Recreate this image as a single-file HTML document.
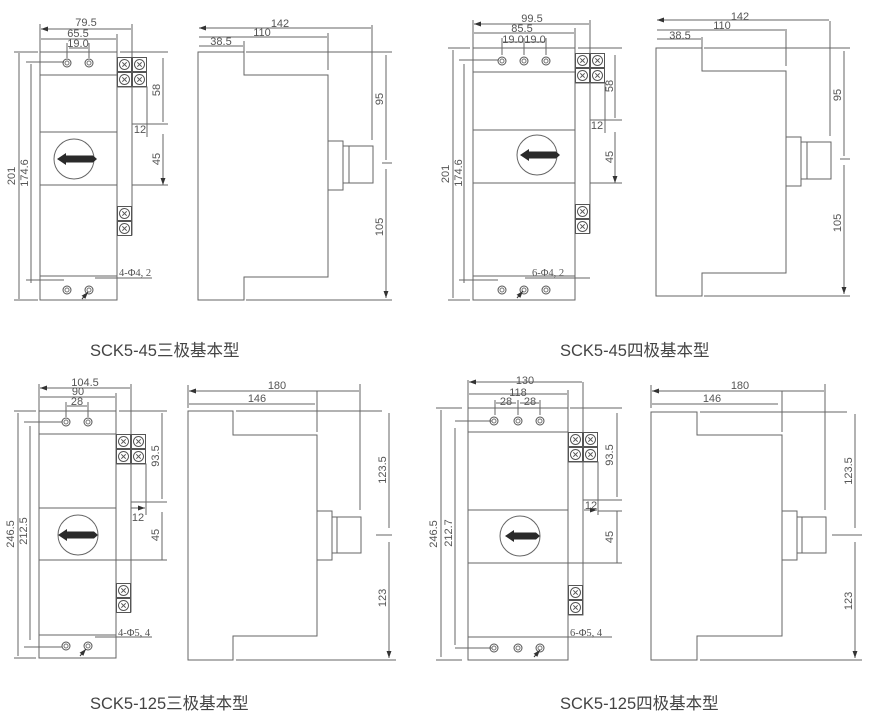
<!DOCTYPE html>
<html><head><meta charset="utf-8"><style>
html,body{margin:0;padding:0;background:#fff;}
svg{display:block;}
text{font-family:"Liberation Sans","Noto Sans CJK SC",sans-serif;fill:#555;}
.d{font-size:11px;}
.c{font-size:16.5px;fill:#444;}
.m{font-family:"Liberation Serif",serif;font-size:10.5px;}
</style></head><body>
<svg width="885" height="723" viewBox="0 0 885 723" xmlns="http://www.w3.org/2000/svg">
<defs>
<marker id="a" viewBox="0 0 10 10" refX="10" refY="5" markerWidth="7" markerHeight="7" orient="auto-start-reverse"><path d="M0,1.5 L10,5 L0,8.5z" fill="#333"/></marker>
<symbol id="t" viewBox="0 0 15 15" width="15" height="15"><rect x="0.5" y="0.5" width="14" height="14" fill="#fff" stroke="#555"/><circle cx="7.5" cy="7.5" r="5" fill="none" stroke="#555"/><path d="M5.3,5.3 9.7,9.7 M9.7,5.3 5.3,9.7" stroke="#555"/></symbol>
<symbol id="h" viewBox="0 0 10 10" width="10" height="10"><circle cx="5" cy="5" r="4" fill="none" stroke="#555"/><circle cx="5" cy="5" r="2" fill="none" stroke="#777"/></symbol>
</defs>
<g stroke="#666" stroke-width="1" fill="none">
<!-- Panel A front -->
<rect x="40" y="52" width="77" height="248"/>
<path d="M40,75H117M40,132H117M40,185H117M40,276H117"/>
<circle cx="74" cy="159" r="20"/>
<rect x="117" y="87" width="15" height="148"/><rect x="132" y="87" width="15" height="37"/>
<g marker-start="url(#a)" marker-end="url(#a)">
<path d="M41,29H131M41,39H116M69,48H88M19,53V299M31,64V283M163,58V122M163,134V185"/>
</g>
<path d="M40,24V52M132,24V57M117,34V52M67,43V58M89,43V58M14,52H38M14,300H38M26,62H64M26,280H64M120,52H168M147,124H168M132,185H168M147,124V137M132,124V137"/>
<path d="M95,278H152"/>
<!-- Side A -->
<path d="M198,52H244V75H328V277H244V300H198Z"/>
<path d="M246,52H392M246,300H392M382,163H392M372,25V140M328,33V70M244,41V52"/>
<rect x="328" y="141" width="15" height="49"/><rect x="343" y="146" width="6" height="37"/><rect x="349" y="146" width="24" height="37"/>
<g marker-start="url(#a)" marker-end="url(#a)"><path d="M199,28H371M199,37H327M199,46H243M386,55V160M386,169V298"/></g>

<!-- Panel B front -->
<rect x="473" y="48" width="102" height="252"/>
<path d="M473,72H575M473,130H575M473,183H575M473,276H575"/>
<circle cx="537" cy="155" r="20"/>
<rect x="575" y="83" width="15" height="150"/><rect x="590" y="83" width="15" height="37"/>
<g marker-start="url(#a)" marker-end="url(#a)">
<path d="M474,24H589M474,33H574M503,42H523M525,42H545M453,50V298M464,64V283M615,55V118M615,132V183"/>
</g>
<path d="M473,20V48M590,20V53M575,28V48M502,38V55M524,38V55M546,38V55M448,48H470M448,300H470M459,60H498M459,280H498M578,48H622M605,120H622M590,183H622M605,120V133M590,120V133"/>
<path d="M525,278H590"/>
<!-- Side B -->
<path d="M656,48H702V71H786V273H702V296H656Z"/>
<path d="M704,48H850M704,296H850M840,159H850M830,21V136M786,29V66M702,37V48"/>
<rect x="786" y="137" width="15" height="49"/><rect x="801" y="142" width="6" height="37"/><rect x="807" y="142" width="24" height="37"/>
<g marker-start="url(#a)" marker-end="url(#a)"><path d="M657,20H829M657,30H785M657,39H701M844,51V156M844,165V294"/></g>

<!-- Panel C front -->
<rect x="39" y="411" width="77" height="247"/>
<path d="M39,434H116M39,508H116M39,560H116M39,635H116"/>
<circle cx="78" cy="535" r="20"/>
<rect x="116" y="464" width="15" height="148"/><rect x="131" y="464" width="15" height="38"/>
<g marker-start="url(#a)" marker-end="url(#a)">
<path d="M40,388H130M40,397H115M67,406H87M18,413V656M30,426V640M162,413V499M162,512V560M131,508H145"/>
</g>
<path d="M39,384V411M131,384V434M116,393V411M66,402V417M88,402V417M14,411H36M14,658H36M24,422H62M24,647H62M119,411H167M146,502H167M116,560H167M146,502V515M131,502V508"/>
<path d="M95,637H152"/>
<!-- Side C -->
<path d="M188,411H233V435H317V636H233V660H188Z"/>
<path d="M236,411H382M236,660H396M376,535H392M360,384V510M317,391V432M188,385V408"/>
<rect x="317" y="511" width="15" height="49"/><rect x="332" y="517" width="5" height="36"/><rect x="337" y="517" width="24" height="36"/>
<g marker-start="url(#a)" marker-end="url(#a)"><path d="M189,391H359M189,404H315M389,413V528M389,542V658"/></g>

<!-- Panel D front -->
<rect x="468" y="408" width="100" height="252"/>
<path d="M468,432H568M468,510H568M468,563H568M468,637H568"/>
<circle cx="520" cy="536" r="20"/>
<rect x="568" y="462" width="15" height="153"/><rect x="583" y="462" width="15" height="38"/>
<g marker-start="url(#a)" marker-end="url(#a)">
<path d="M469,382H582M469,394H567M496,403H516M520,403H539M441,410V657M455,428V645M617,413V497M617,511V563M584,510H597"/>
</g>
<path d="M468,380V408M583,382V432M568,390V408M495,400V415M518,400V415M540,400V415M436,408H462M436,660H462M455,421H492M455,648H492M570,408H622M598,500H622M598,511H622M568,563H622M598,500V515"/>
<path d="M555,637H612"/>
<!-- Side D -->
<path d="M651,412H697V435H782V636H697V660H651Z"/>
<path d="M700,412H847M700,660H862M832,535H862M825,384V510M782,391V432M651,385V408"/>
<rect x="782" y="511" width="15" height="49"/><rect x="797" y="517" width="5" height="36"/><rect x="802" y="517" width="24" height="36"/>
<g marker-start="url(#a)" marker-end="url(#a)"><path d="M652,391H824M652,404H778M855,414V528M855,542V658"/></g>
</g>

<!-- handles -->
<g fill="#2a2a2a">
<path d="M57,159 66,153 66,155.5 93,155.5 97,159 93,162.5 66,162.5 66,165Z"/>
<path d="M520,155 529,149 529,151.5 556,151.5 560,155 556,158.5 529,158.5 529,161Z"/>
<path d="M58,535 67,529 67,531.5 94,531.5 98,535 94,538.5 67,538.5 67,541Z"/>
<path d="M505,536 514,530 514,532.5 536,532.5 540,536 536,539.5 514,539.5 514,542Z"/>
</g>

<!-- terminals -->
<use href="#t" x="117" y="57"/><use href="#t" x="132" y="57"/><use href="#t" x="117" y="72"/><use href="#t" x="132" y="72"/>
<use href="#t" x="117" y="206"/><use href="#t" x="117" y="221"/>
<use href="#t" x="575" y="53"/><use href="#t" x="590" y="53"/><use href="#t" x="575" y="68"/><use href="#t" x="590" y="68"/>
<use href="#t" x="575" y="204"/><use href="#t" x="575" y="219"/>
<use href="#t" x="116" y="434"/><use href="#t" x="131" y="434"/><use href="#t" x="116" y="449"/><use href="#t" x="131" y="449"/>
<use href="#t" x="116" y="583"/><use href="#t" x="116" y="598"/>
<use href="#t" x="568" y="432"/><use href="#t" x="583" y="432"/><use href="#t" x="568" y="447"/><use href="#t" x="583" y="447"/>
<use href="#t" x="568" y="585"/><use href="#t" x="568" y="600"/>

<!-- holes -->
<use href="#h" x="62" y="58"/><use href="#h" x="84" y="58"/><use href="#h" x="62" y="285"/><use href="#h" x="84" y="285"/>
<use href="#h" x="497" y="56"/><use href="#h" x="519" y="56"/><use href="#h" x="541" y="56"/><use href="#h" x="497" y="285"/><use href="#h" x="519" y="285"/><use href="#h" x="541" y="285"/>
<use href="#h" x="61" y="417"/><use href="#h" x="83" y="417"/><use href="#h" x="61" y="641"/><use href="#h" x="83" y="641"/>
<use href="#h" x="489" y="416"/><use href="#h" x="513" y="416"/><use href="#h" x="535" y="416"/><use href="#h" x="489" y="643"/><use href="#h" x="513" y="643"/><use href="#h" x="535" y="643"/>
<g stroke="#333" fill="none" marker-end="url(#a)">
<path d="M82,299 88,292"/><path d="M517,298 523,291"/><path d="M80,656 86,649"/><path d="M534,657 540,650"/>
</g>

<!-- dimension texts -->
<g class="d" text-anchor="middle">
<text x="86" y="26">79.5</text><text x="78" y="37">65.5</text><text x="78" y="47">19.0</text>
<text x="280" y="27">142</text><text x="262" y="36">110</text><text x="221" y="45">38.5</text>
<text x="532" y="22">99.5</text><text x="522" y="32">85.5</text><text x="513" y="43">19.0</text><text x="535" y="43">19.0</text>
<text x="740" y="20">142</text><text x="722" y="29">110</text><text x="680" y="39">38.5</text>
<text x="85" y="386">104.5</text><text x="78" y="395">90</text><text x="77" y="405">28</text>
<text x="277" y="389">180</text><text x="257" y="402">146</text>
<text x="525" y="384">130</text><text x="518" y="396">118</text><text x="506" y="405">28</text><text x="530" y="405">28</text>
<text x="740" y="389">180</text><text x="712" y="402">146</text>
<text x="140" y="133">12</text><text x="597" y="129">12</text><text x="138" y="521">12</text><text x="591" y="509">12</text>
</g>
<g class="d" text-anchor="middle">
<text transform="translate(15,176) rotate(-90)">201</text>
<text transform="translate(28,173) rotate(-90)">174.6</text>
<text transform="translate(160,90) rotate(-90)">58</text>
<text transform="translate(160,159) rotate(-90)">45</text>
<text transform="translate(383,99) rotate(-90)">95</text>
<text transform="translate(383,227) rotate(-90)">105</text>
<text transform="translate(449,174) rotate(-90)">201</text>
<text transform="translate(462,173) rotate(-90)">174.6</text>
<text transform="translate(613,86) rotate(-90)">58</text>
<text transform="translate(613,157) rotate(-90)">45</text>
<text transform="translate(841,95) rotate(-90)">95</text>
<text transform="translate(841,223) rotate(-90)">105</text>
<text transform="translate(14,534) rotate(-90)">246.5</text>
<text transform="translate(27,531) rotate(-90)">212.5</text>
<text transform="translate(159,456) rotate(-90)">93.5</text>
<text transform="translate(159,535) rotate(-90)">45</text>
<text transform="translate(386,470) rotate(-90)">123.5</text>
<text transform="translate(386,598) rotate(-90)">123</text>
<text transform="translate(437,534) rotate(-90)">246.5</text>
<text transform="translate(452,533) rotate(-90)">212.7</text>
<text transform="translate(613,455) rotate(-90)">93.5</text>
<text transform="translate(613,537) rotate(-90)">45</text>
<text transform="translate(852,471) rotate(-90)">123.5</text>
<text transform="translate(852,601) rotate(-90)">123</text>
</g>
<text class="m" x="119" y="276">4-Φ4, 2</text>
<text class="m" x="532" y="276">6-Φ4, 2</text>
<text class="m" x="118" y="636">4-Φ5, 4</text>
<text class="m" x="570" y="636">6-Φ5, 4</text>

<text class="c" x="90" y="356">SCK5-45三极基本型</text>
<text class="c" x="560" y="356">SCK5-45四极基本型</text>
<text class="c" x="90" y="709">SCK5-125三极基本型</text>
<text class="c" x="560" y="709">SCK5-125四极基本型</text>
</svg>
</body></html>
